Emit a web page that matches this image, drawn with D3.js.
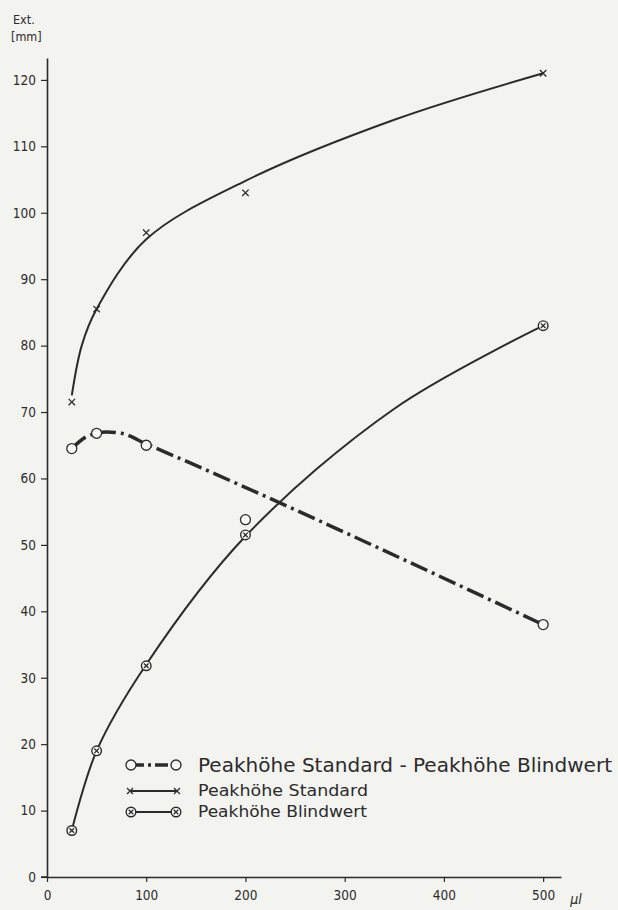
<!DOCTYPE html>
<html>
<head>
<meta charset="utf-8">
<script src="https://cdn.jsdelivr.net/npm/d3@7"></script>
<style>
  html, body { margin: 0; padding: 0; background: #f3f3f0; }
  svg { display: block; }
</style>
</head>
<body>
<svg id="chart" width="618" height="910"></svg>
<script>
// ---- data ----
const volumes = [25, 50, 100, 200, 500];                 // µl
const standardPoints = [71.5, 85.5, 97, 103, 121];        // Peakhöhe Standard
const blankPoints = [7, 19, 31.8, 51.5, 83];              // Peakhöhe Blindwert
const diffPoints = [64.5, 66.8, 65, 53.8, 38];            // Standard - Blindwert

// fitted curves as drawn in the picture
const standardCurveX = [25, 35, 50, 100, 200, 350, 500];
const standardCurveY = [72.5, 80, 85.5, 96, 104.8, 114, 121];
const blankCurveX = [25, 50, 100, 200, 350, 500];
const blankCurveY = [7, 19, 32, 51.3, 70.5, 83];
const diffCurveX = [25, 40, 60, 75, 100, 500];
const diffCurveY = [64.5, 66.3, 67, 66.8, 65.2, 38];

const xTicks = [0, 100, 200, 300, 400, 500];
const yTicks = [0, 10, 20, 30, 40, 50, 60, 70, 80, 90, 100, 110, 120];

const legendLabels = [
  "Peakhöhe Standard - Peakhöhe Blindwert",
  "Peakhöhe Standard",
  "Peakhöhe Blindwert"
];

// ---- drawing ----
const ink = "#2b2b2b";
const tickFont = "'DejaVu Sans Condensed', 'DejaVu Sans', sans-serif";
const svg = d3.select("#chart");

const x = d3.scaleLinear().domain([0, 518]).range([47, 561]);
const y = d3.scaleLinear().domain([0, 123.3]).range([877, 58]);

// axes
const xAxis = svg.append("g").attr("transform", `translate(0,${y(0)})`)
  .call(d3.axisBottom(x).tickValues(xTicks).tickSize(5).tickSizeOuter(0).tickPadding(8));
const yAxis = svg.append("g").attr("transform", `translate(${x(0)},0)`)
  .call(d3.axisLeft(y).tickValues(yTicks).tickSize(6).tickSizeOuter(0).tickPadding(5));
[xAxis, yAxis].forEach(g => {
  g.selectAll("path.domain").attr("stroke", ink).attr("stroke-width", 1.6);
  g.selectAll(".tick line").attr("stroke", ink).attr("stroke-width", 1.2);
  g.selectAll(".tick text").attr("fill", ink).style("font-family", tickFont).style("font-size", "13.5px");
});
svg.append("line").attr("x1", x(0) - 6).attr("x2", x(0)).attr("y1", y(0)).attr("y2", y(0))
  .attr("stroke", ink).attr("stroke-width", 1.6);

svg.append("text").attr("x", 13).attr("y", 24).text("Ext.")
  .attr("fill", ink).style("font-family", tickFont).style("font-size", "12.5px");
svg.append("text").attr("x", 11).attr("y", 41).text("[mm]")
  .attr("fill", ink).style("font-family", tickFont).style("font-size", "12.5px");
svg.append("text").attr("x", x(500) + 27).attr("y", y(0) + 27).text("µl")
  .attr("fill", ink).style("font-family", tickFont).style("font-size", "14px").style("font-style", "italic");

// curves
const zip = (a, b) => a.map((v, i) => [v, b[i]]);
const smooth = d3.line().x(d => x(d[0])).y(d => y(d[1])).curve(d3.curveCatmullRom.alpha(0.5));
const mono = d3.line().x(d => x(d[0])).y(d => y(d[1])).curve(d3.curveMonotoneX);

svg.append("path").attr("d", smooth(zip(standardCurveX, standardCurveY)))
  .attr("fill", "none").attr("stroke", ink).attr("stroke-width", 2);
svg.append("path").attr("d", smooth(zip(blankCurveX, blankCurveY)))
  .attr("fill", "none").attr("stroke", ink).attr("stroke-width", 2);
svg.append("path").attr("d", mono(zip(diffCurveX, diffCurveY)))
  .attr("fill", "none").attr("stroke", ink).attr("stroke-width", 3.5)
  .attr("stroke-dasharray", "18,5,3,5");

// markers
function crossMarker(g, cx, cy, s) {
  g.append("path").attr("d", `M${cx - s},${cy - s}L${cx + s},${cy + s}M${cx - s},${cy + s}L${cx + s},${cy - s}`)
    .attr("stroke", ink).attr("stroke-width", 1.3).attr("fill", "none");
}
function circleMarker(g, cx, cy) {
  g.append("circle").attr("cx", cx).attr("cy", cy).attr("r", 5)
    .attr("fill", "#f7f7f5").attr("stroke", ink).attr("stroke-width", 1.3);
}
function circledCross(g, cx, cy) {
  g.append("circle").attr("cx", cx).attr("cy", cy).attr("r", 4.8)
    .attr("fill", "#f7f7f5").attr("stroke", ink).attr("stroke-width", 1.4);
  crossMarker(g, cx, cy, 2.3);
}
const mk = svg.append("g");
volumes.forEach((v, i) => {
  crossMarker(mk, x(v), y(standardPoints[i]), 3.2);
  circledCross(mk, x(v), y(blankPoints[i]));
  circleMarker(mk, x(v), y(diffPoints[i]));
});

// legend
const lg = svg.append("g");
const rows = [765, 791, 812];
const symX0 = 131, symX1 = 176, textX = 198;
lg.append("line").attr("x1", symX0).attr("x2", symX1).attr("y1", rows[0]).attr("y2", rows[0])
  .attr("stroke", ink).attr("stroke-width", 3.5).attr("stroke-dasharray", "13,4,3,4");
circleMarker(lg, symX0, rows[0]);
circleMarker(lg, symX1, rows[0]);
lg.append("line").attr("x1", symX0).attr("x2", symX1).attr("y1", rows[1]).attr("y2", rows[1])
  .attr("stroke", ink).attr("stroke-width", 2);
crossMarker(lg, symX0 - 1, rows[1], 3);
crossMarker(lg, symX1 + 1, rows[1], 3);
lg.append("line").attr("x1", symX0).attr("x2", symX1).attr("y1", rows[2]).attr("y2", rows[2])
  .attr("stroke", ink).attr("stroke-width", 2);
circledCross(lg, symX0, rows[2]);
circledCross(lg, symX1, rows[2]);

const legendFont = "'DejaVu Sans', sans-serif";
const legendSizes = [20, 15, 15];
const legendWidths = [414, 170, 169];
legendLabels.forEach((t, i) => {
  lg.append("text").attr("x", textX).attr("y", rows[i]).attr("dy", "0.35em").text(t)
    .attr("fill", ink).style("font-family", legendFont).style("font-size", legendSizes[i] + "px")
    .attr("textLength", legendWidths[i]).attr("lengthAdjust", "spacingAndGlyphs");
});
</script>
</body>
</html>
